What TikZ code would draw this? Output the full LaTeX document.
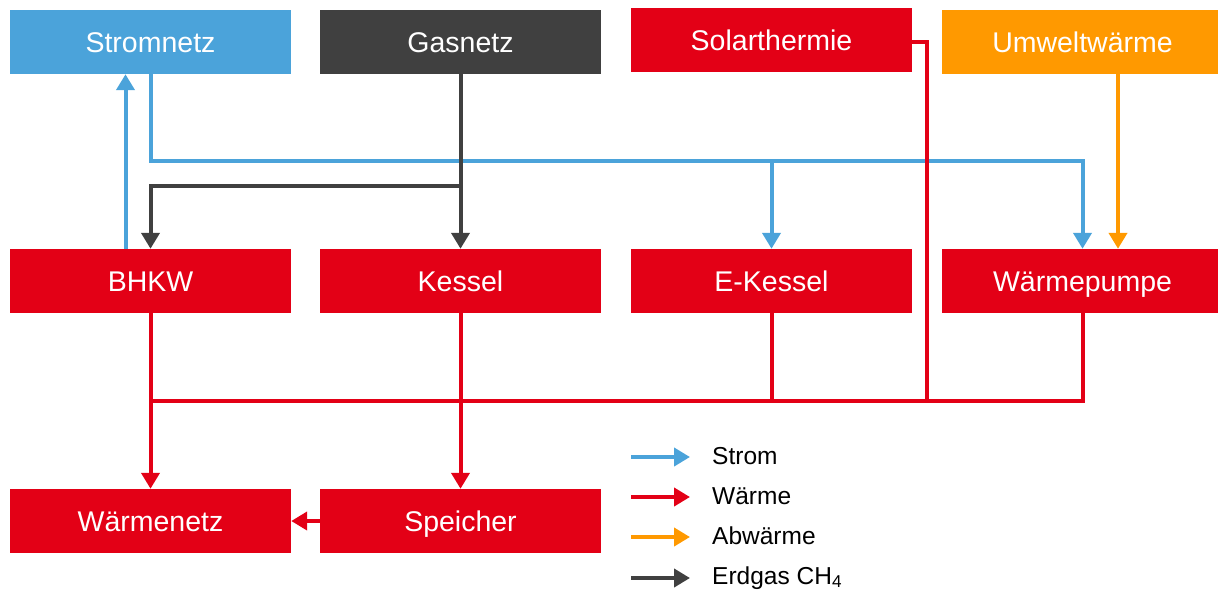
\documentclass[tikz,border=0pt]{standalone}
\usepackage{fontspec}
\setmainfont{Liberation Sans}
\usetikzlibrary{arrows.meta}
\definecolor{stromblau}{RGB}{75,163,218}
\definecolor{gasgrau}{RGB}{64,64,64}
\definecolor{waermerot}{RGB}{227,0,22}
\definecolor{abwaermeorange}{RGB}{255,153,0}
\begin{document}
\begin{tikzpicture}[x=1pt,y=-1pt]
    % size of each box
    \def\bw{281pt}
    \def\bh{64pt}
    % box and line styles
    \tikzstyle{box} = [
    	rectangle, minimum width=\bw, minimum height=\bh, inner sep=0pt,
    	text height=23pt, text depth=2pt,
    	text=white, font=\fontsize{28.5}{34}\selectfont ];
    \tikzstyle{legtext} = [inner sep=0pt, font=\fontsize{24.5}{29}\selectfont];
    \tikzstyle{flow} = [line width=4pt];
    \tikzstyle{strom} = [flow, draw=stromblau];
    \tikzstyle{gas} = [flow, draw=gasgrau];
    \tikzstyle{waerme} = [flow, draw=waermerot];
    \tikzstyle{abwaerme} = [flow, draw=abwaermeorange];
    \tikzstyle{tip} = [-{Triangle[width=18pt,length=16pt]}];
    \useasboundingbox (0,0) rectangle (1218,590);
    % sources
    \foreach \n/\t/\c/\x/\y in {Stromnetz/Stromnetz/stromblau/150.5/42,
    		Gasnetz/Gasnetz/gasgrau/460.5/42,
    		Solar/Solarthermie/waermerot/771.5/40,
    		Umwelt/Umweltwärme/abwaermeorange/1082.5/42}
    	\node[box, fill=\c] (\n) at (\x,\y) {\t};
    % generators
    \foreach \n/\t/\x in {BHKW/BHKW/150.5, Kessel/Kessel/460.5,
    		EKessel/E-Kessel/771.5, Waermepumpe/Wärmepumpe/1082.5}
    	\node[box, fill=waermerot] (\n) at (\x,281) {\t};
    % sinks
    \node[box, fill=waermerot] (Waermenetz) at (150.5,521) {Wärmenetz};
    \node[box, fill=waermerot] (Speicher) at (460.5,521) {Speicher};
    % bus levels
    \coordinate (sbus) at (0,161);
    \coordinate (gbus) at (0,186);
    \coordinate (hbus) at (0,401);
    \coordinate (sdrop) at ([xshift=15pt,yshift=-1.5pt]Solar.east);
    % electricity
    \draw[strom,tip] ([xshift=-25pt]BHKW.north) -- ([xshift=-25pt]Stromnetz.south);
    \draw[strom,tip] (Stromnetz.south) |- (sbus -| Waermepumpe.north) -- (Waermepumpe.north);
    \draw[strom,tip] (sbus -| EKessel.north) -- (EKessel.north);
    % gas
    \draw[gas,tip] (Gasnetz.south) -- (Kessel.north);
    \draw[gas,tip] (Gasnetz.south |- gbus) -| (BHKW.north);
    % ambient heat
    \draw[abwaerme,tip] ([xshift=35.5pt]Umwelt.south) -- ([xshift=35.5pt]Waermepumpe.north);
    % heat
    \draw[waerme] (Waermepumpe.south) |- (BHKW.south |- hbus);
    \draw[waerme] (EKessel.south) -- (EKessel.south |- hbus);
    \draw[waerme] (Solar.east |- sdrop) -- (sdrop) -- (sdrop |- hbus);
    \draw[waerme,tip] (BHKW.south) -- (Waermenetz.north);
    \draw[waerme,tip] (Kessel.south) -- (Speicher.north);
    \draw[waerme,tip] (Speicher.west) -- (Waermenetz.east);
    % legend
    \foreach \t/\s/\y/\b [count=\i] in {Strom/strom/457/464.5, Wärme/waerme/497/504.5,
    		Abwärme/abwaerme/537/544.5, Erdgas CH\textsubscript{4}/gas/578/584}
    {
    	\coordinate (l\i a) at (631,\y);
    	\coordinate (l\i b) at (690,\y);
    	\draw[\s,tip] (l\i a) -- (l\i b);
    	\node[legtext, anchor=base west] (leg\i) at (712,\b) {\t};
    }
\end{tikzpicture}
\end{document}
